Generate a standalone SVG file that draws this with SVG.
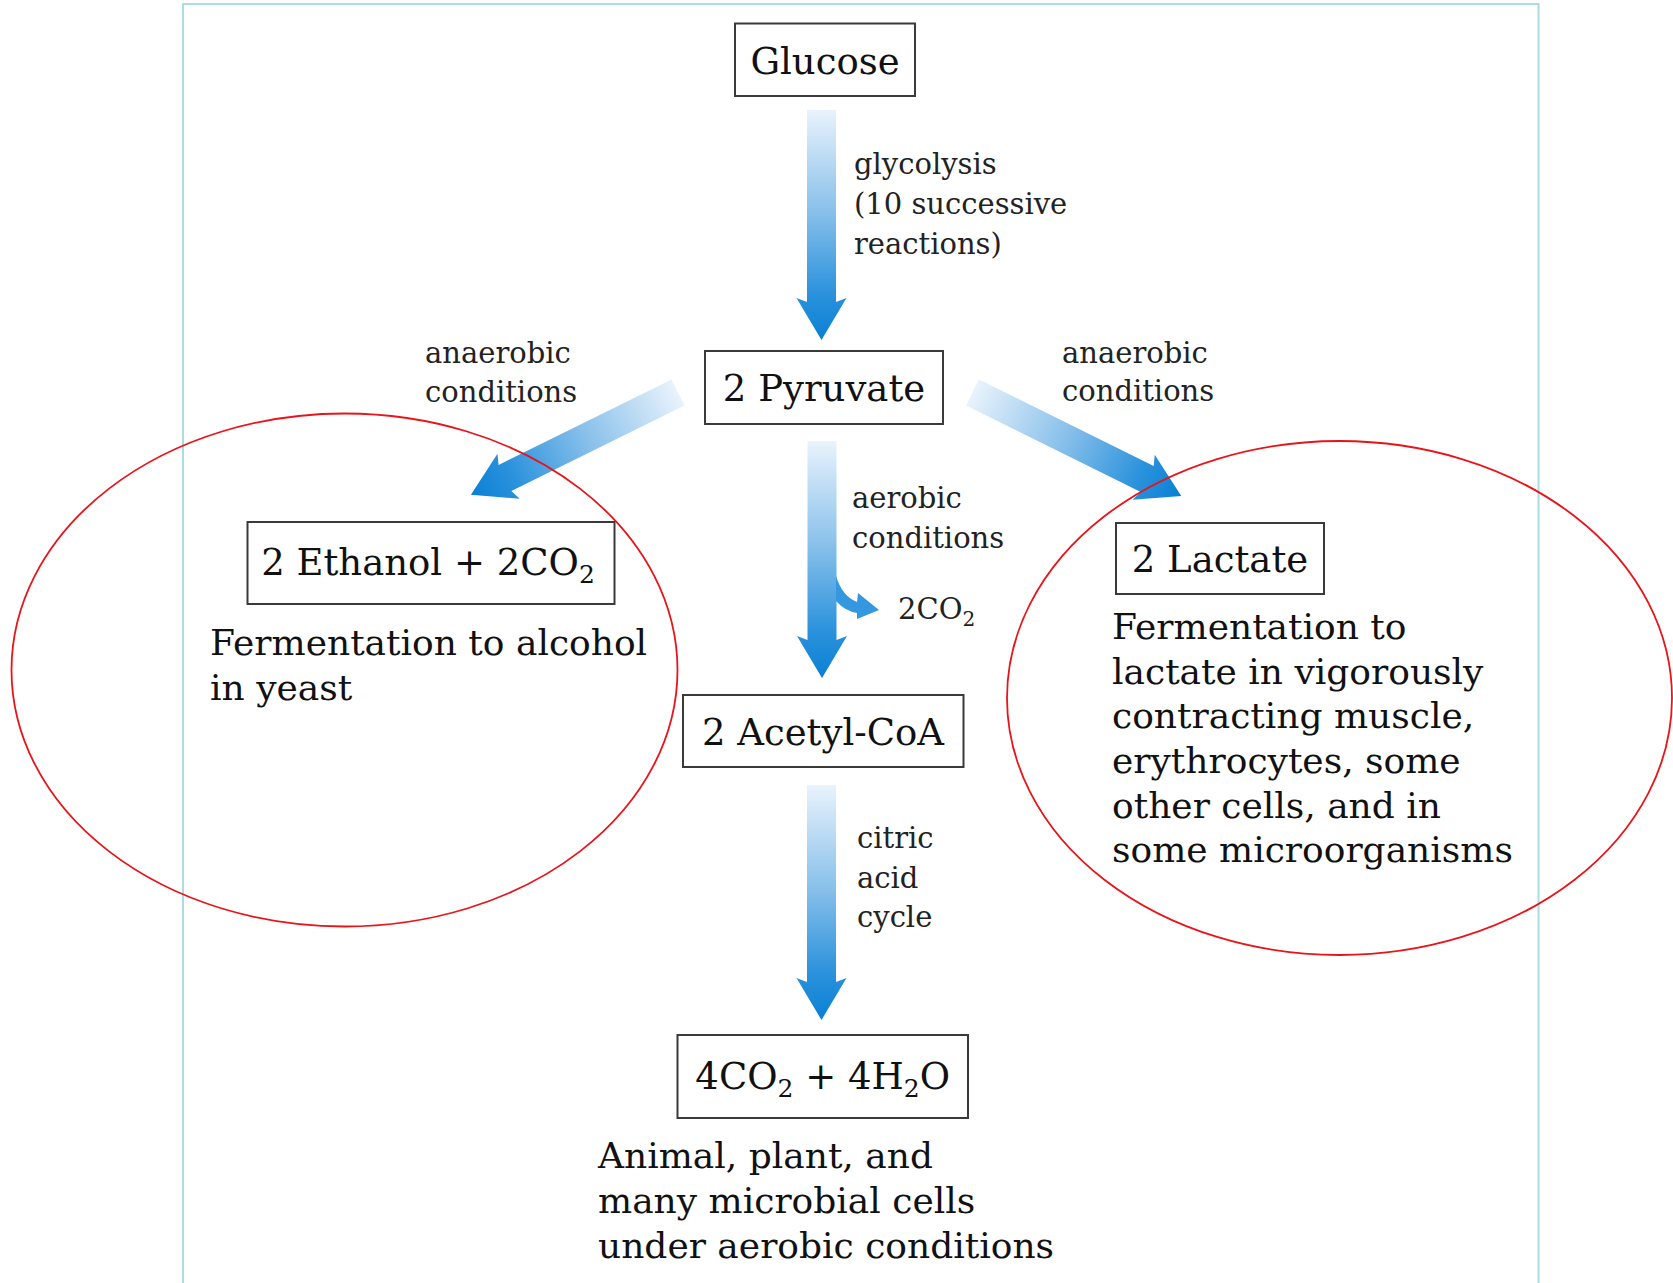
<svg xmlns="http://www.w3.org/2000/svg" width="1673" height="1283" viewBox="0 0 1673 1283">
<style>
.box{fill:#fff;stroke:#3a3a3a;stroke-width:2}
.lbl{font-family:"DejaVu Serif","Liberation Serif",serif;font-size:37px;fill:#111;text-anchor:middle}
.desc{font-family:"DejaVu Serif","Liberation Serif",serif;font-size:36px;fill:#111}
.small{font-family:"DejaVu Serif","Liberation Serif",serif;font-size:29px;fill:#222}
.arr{fill:url(#grad)}
.ring{fill:none;stroke:#e8141a;stroke-width:1.8}
</style>
<defs>
<linearGradient id="grad" x1="0" y1="0" x2="1" y2="0">
<stop offset="0" stop-color="#e9f3fc"/>
<stop offset="0.45" stop-color="#86bfea"/>
<stop offset="0.8" stop-color="#2b92dc"/>
<stop offset="1" stop-color="#0a80d4"/>
</linearGradient>
</defs>
<rect width="1673" height="1283" fill="#fff"/>
<rect x="183" y="4" width="1355.5" height="1300" fill="none" stroke="#acdbe4" stroke-width="2"/>

<g id="connectors">
<path class="arr" transform="translate(821.5,110) rotate(90)" d="M0,-14.5 L192,-14.5 L188,-25 L230,0 L188,25 L192,14.5 L0,14.5 Z"/>
<path class="arr" transform="translate(822,441) rotate(90)" d="M0,-14.5 L199,-14.5 L195,-25 L237,0 L195,25 L199,14.5 L0,14.5 Z"/>
<path fill="#3597df" d="M836,576 Q842,596 857,602 L858,593 L879,610 L857,619 L857,613 Q845,611 836,601 Z"/>
<path class="arr" transform="translate(821.5,785) rotate(90)" d="M0,-14.5 L197,-14.5 L193,-25 L235,0 L193,25 L197,14.5 L0,14.5 Z"/>
<path class="arr" transform="translate(678,392.5) rotate(153.7)" d="M0,-14.5 L193,-14.5 L189,-25 L231,0 L189,25 L193,14.5 L0,14.5 Z"/>
<path class="arr" transform="translate(972.5,392.5) rotate(26.35)" d="M0,-14.5 L195,-14.5 L191,-25 L233,0 L191,25 L195,14.5 L0,14.5 Z"/>
<text class="small" x="854" y="174">glycolysis</text>
<text class="small" x="854" y="214">(10 successive</text>
<text class="small" x="854" y="254">reactions)</text>
<text class="small" x="425" y="363">anaerobic</text>
<text class="small" x="425" y="402">conditions</text>
<text class="small" x="1062" y="363">anaerobic</text>
<text class="small" x="1062" y="401">conditions</text>
<text class="small" x="852" y="508">aerobic</text>
<text class="small" x="852" y="548">conditions</text>
<text class="small" x="898" y="619">2CO<tspan font-size="20" dy="7">2</tspan></text>
<text class="small" x="857" y="848">citric</text>
<text class="small" x="857" y="888">acid</text>
<text class="small" x="857" y="927">cycle</text>
</g>

<g id="glucose">
<rect class="box" x="735" y="23.5" width="180" height="72.5"/>
<text class="lbl" x="825" y="74">Glucose</text>
</g>
<g id="pyruvate">
<rect class="box" x="705" y="351" width="238" height="73"/>
<text class="lbl" x="824" y="401">2 Pyruvate</text>
</g>
<g id="ethanol">
<rect class="box" x="247.5" y="522" width="367" height="82"/>
<text class="lbl" x="428" y="575">2 Ethanol + 2CO<tspan font-size="25" dy="8">2</tspan></text>
<text class="desc" x="210" y="655">Fermentation to alcohol</text>
<text class="desc" x="210" y="700">in yeast</text>
</g>
<g id="lactate">
<rect class="box" x="1116" y="523" width="208" height="71"/>
<text class="lbl" x="1220" y="572">2 Lactate</text>
<text class="desc" x="1112" y="639">Fermentation to</text>
<text class="desc" x="1112" y="684">lactate in vigorously</text>
<text class="desc" x="1112" y="728">contracting muscle,</text>
<text class="desc" x="1112" y="773">erythrocytes, some</text>
<text class="desc" x="1112" y="818">other cells, and in</text>
<text class="desc" x="1112" y="862">some microorganisms</text>
</g>
<g id="acetylcoa">
<rect class="box" x="683" y="695" width="280.5" height="72"/>
<text class="lbl" x="823" y="745">2 Acetyl-CoA</text>
</g>
<g id="co2h2o">
<rect class="box" x="677.5" y="1035" width="290.5" height="83"/>
<text class="lbl" x="822.7" y="1089">4CO<tspan font-size="25" dy="8">2</tspan><tspan dy="-8"> + 4H</tspan><tspan font-size="25" dy="8">2</tspan><tspan dy="-8">O</tspan></text>
<text class="desc" x="598" y="1168">Animal, plant, and</text>
<text class="desc" x="598" y="1213">many microbial cells</text>
<text class="desc" x="598" y="1258">under aerobic conditions</text>
</g>

<g id="annotations">
<ellipse class="ring" cx="344.5" cy="670" rx="333" ry="256.5"/>
<ellipse class="ring" cx="1339.5" cy="698" rx="332.5" ry="257"/>
</g>
</svg>
